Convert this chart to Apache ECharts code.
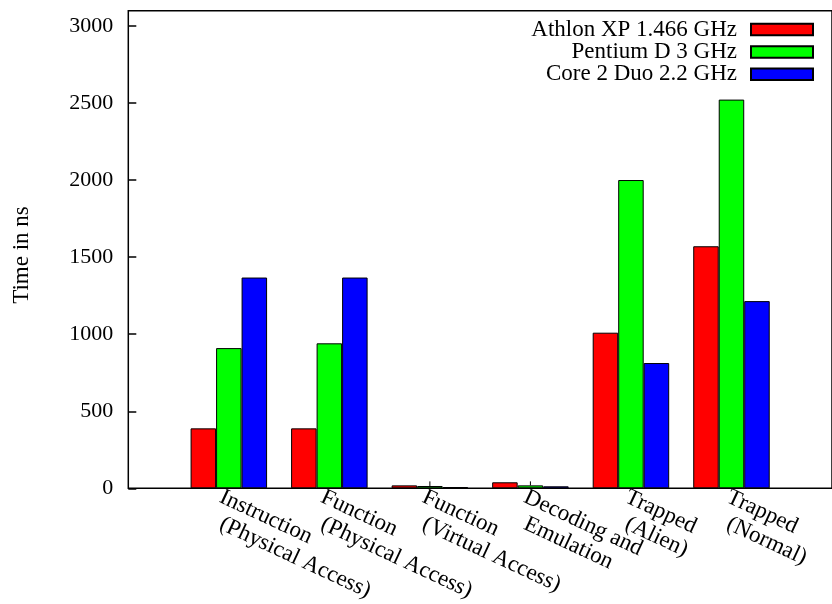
<!DOCTYPE html>
<html>
<head>
<meta charset="utf-8">
<script src="https://cdn.jsdelivr.net/npm/echarts@6/dist/echarts.min.js"></script>
<style>html,body{margin:0;padding:0;background:#fff;}#c{width:832px;height:604px;}</style>
</head>
<body>
<div id="c"></div>
<script>
// ---- data ----
var labelLine1 = ["Instruction", "Function", "Function", "Decoding and", "Trapped", "Trapped"];
var labelLine2 = ["(Physical Access)", "(Physical Access)", "(Virtual Access)", "Emulation", "(Alien)", "(Normal)"];
var seriesNames = ["Athlon XP 1.466 GHz", "Pentium D 3 GHz", "Core 2 Duo 2.2 GHz"];
var athlon  = [389, 389, 19, 39, 1010, 1571];
var pentium = [910, 941, 15, 19, 2001, 2523];
var core2   = [1368, 1368, 8, 13, 813, 1215];
var pentiumErrHigh = [null, null, 45, 45, null, null];
var yTicks = [0, 500, 1000, 1500, 2000, 2500, 3000];

// ---- build ----
var cats = ["_l"].concat(labelLine1.map(function (s, i) { return "c" + i; })).concat(["_r"]);
function pad(arr) { return [null].concat(arr).concat([null]); }
var FONT = "Liberation Serif";
var colors = ["#ff0000", "#00ff00", "#0000ff"];
var values = [athlon, pentium, core2];

var G0 = { left: 128.3, top: 10.7, bottom: 115.7, right: -8.4 };
var DX = 9;

var series = values.map(function (v, i) {
  return {
    name: seriesNames[i], type: 'bar', xAxisIndex: 0, yAxisIndex: 0,
    data: pad(v), barWidth: 25.5, barGap: '0%',
    itemStyle: { color: colors[i], borderColor: '#000', borderWidth: 1 },
    emphasis: { disabled: true }, animation: false
  };
});
var errData = [];
pentiumErrHigh.forEach(function (h, i) { if (h != null) errData.push([i + 1, pentium[i], h]); });
series.push({
  type: 'custom', xAxisIndex: 0, yAxisIndex: 0, data: errData, animation: false, z: 5,
  renderItem: function (params, api) {
    var p0 = api.coord([api.value(0), api.value(1)]);
    var p1 = api.coord([api.value(0), api.value(2)]);
    return { type: 'line', shape: { x1: p0[0], y1: p0[1], x2: p1[0], y2: p1[1] },
             style: { stroke: '#000', lineWidth: 1 } };
  }
});

var legends = seriesNames.map(function (n, i) {
  return {
    data: [n], right: 18, top: 18 + i * 22.4, orient: 'vertical', align: 'right', padding: 0,
    itemWidth: 62, itemHeight: 11.5, icon: 'rect', selectedMode: false,
    textStyle: { fontFamily: FONT, fontSize: 23, color: '#000', lineHeight: 22, padding: [0, 9, 0, 0] }
  };
});

function labelAxis(lines, margin) {
  return {
    type: 'category', gridIndex: 1, data: cats, boundaryGap: false, position: 'bottom', offset: 0,
    axisLine: { show: false }, axisTick: { show: false }, splitLine: { show: false },
    axisLabel: {
      interval: 0, rotate: -25, margin: margin, fontFamily: FONT, fontSize: 23, color: '#000',
      hideOverlap: false,
      formatter: function (val, idx) { return (idx >= 1 && idx <= lines.length) ? lines[idx - 1] : ''; }
    }
  };
}

var chart = echarts.init(document.getElementById('c'), null, { renderer: 'canvas' });
chart.setOption({
  animation: false,
  backgroundColor: '#fff',
  grid: [
    { left: G0.left, top: G0.top, bottom: G0.bottom, right: G0.right, show: true,
      borderColor: '#000', borderWidth: 1.5, backgroundColor: 'transparent' },
    { left: G0.left - DX, top: G0.top, bottom: G0.bottom, right: G0.right + DX, show: false }
  ],
  legend: legends,
  xAxis: [
    { type: 'category', gridIndex: 0, data: cats, boundaryGap: false, position: 'bottom',
      axisLine: { show: false }, axisTick: { show: false }, axisLabel: { show: false },
      splitLine: { show: false } },
    labelAxis(labelLine1, 20),
    labelAxis(labelLine2, 47)
  ],
  yAxis: [
    { type: 'value', gridIndex: 0, min: 0, max: 3100, interval: 500,
      axisLine: { show: false },
      axisTick: { show: true, inside: true, length: 8, lineStyle: { color: '#000', width: 1.5 } },
      splitLine: { show: false },
      axisLabel: { margin: 15, fontFamily: FONT, fontSize: 22, color: '#000', showMaxLabel: false,
        formatter: function (v) { return yTicks.indexOf(v) >= 0 ? String(v) : ''; } } },
    { type: 'value', gridIndex: 1, show: false }
  ],
  graphic: [{
    type: 'text', x: 22, y: 255, rotation: Math.PI / 2,
    style: { text: 'Time in ns', fontFamily: FONT, fontSize: 23, fill: '#000',
             align: 'center', verticalAlign: 'middle' }
  }],
  series: series
});
</script>
</body>
</html>
